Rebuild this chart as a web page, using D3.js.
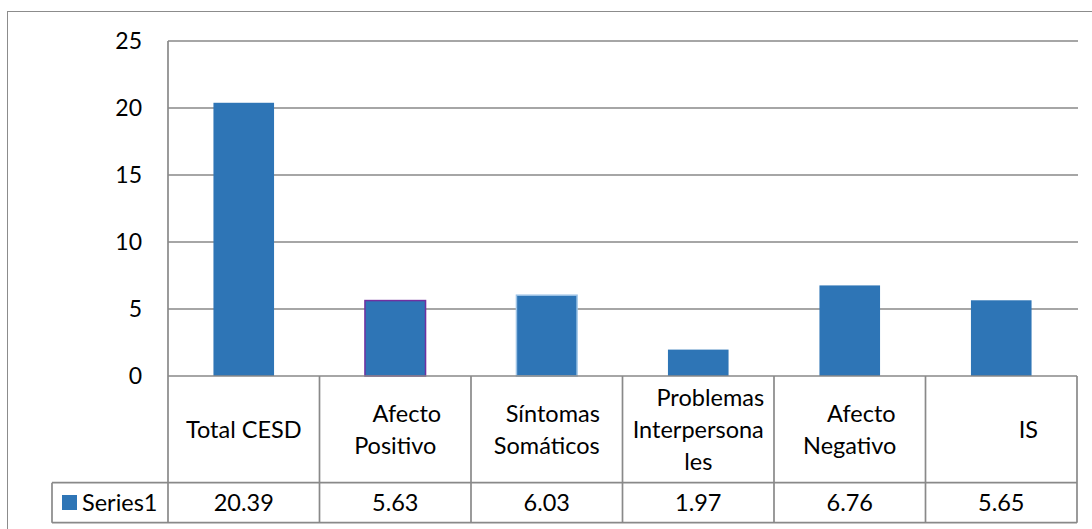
<!DOCTYPE html>
<html>
<head>
<meta charset="utf-8">
<script src="https://cdn.jsdelivr.net/npm/d3@7"></script>
<style>
  html, body { margin: 0; padding: 0; background: #fff; }
  svg { display: block; }
  text { font-family: Lato, "Open Sans", sans-serif; fill: #000; white-space: pre; }
</style>
</head>
<body>
<div id="root"></div>
<script>
// chart data
const categories = ["Total CESD", "Afecto Positivo", "Síntomas Somáticos", "Problemas Interpersonales", "Afecto Negativo", "IS"]
const label_lines = [
  ["Total CESD"],
  ["    Afecto", "Positivo"],
  ["  Síntomas", "Somáticos"],
  ["    Problemas", "Interpersona", "les"],
  ["    Afecto", "Negativo"],
  ["         IS"]
]
const series_name = "Series1"
const values = [20.39, 5.63, 6.03, 1.97, 6.76, 5.65]
const value_labels = ["20.39", "5.63", "6.03", "1.97", "6.76", "5.65"]
const y_ticks = [0, 5, 10, 15, 20, 25]
// outline colours of individual bars as in the original
const bar_strokes = ["none", "#7030a0", "#9dc3e6", "none", "none", "none"]

const W = 1092, H = 529
const plot = {left: 168, right: 1077, top: 41, zero: 376}
const row1_bottom = 482.7, row2_bottom = 522.7, legend_left = 52
const grid_color = "#898989"
const bar_color = "#2e75b6"
const font_size = 23.5

const svg = d3.select("#root").append("svg")
  .attr("width", W)
  .attr("height", H)

// outer chart border (cut off at right and bottom)
svg.append("rect")
  .attr("x", 7.5).attr("y", 11.5)
  .attr("width", W + 20).attr("height", H + 20)
  .attr("fill", "none")
  .attr("stroke", "#8c8c8c")
  .attr("stroke-width", 1)

const x_scale = d3.scaleBand()
  .domain(categories)
  .range([plot.left, plot.right])
  .padding(0)

const y_scale = d3.scaleLinear()
  .domain([0, 25])
  .range([plot.zero, plot.top])

// gridlines
svg.append("g")
  .selectAll("line")
  .data(y_ticks.filter(t => t > 0))
  .enter()
  .append("line")
  .attr("x1", plot.left).attr("x2", plot.right + 1)
  .attr("y1", d => y_scale(d)).attr("y2", d => y_scale(d))
  .attr("stroke", grid_color)
  .attr("stroke-width", 1.7)

// y tick labels
svg.append("g")
  .selectAll("text")
  .data(y_ticks)
  .enter()
  .append("text")
  .attr("x", 142)
  .attr("y", d => y_scale(d))
  .attr("dy", "0.36em")
  .attr("text-anchor", "end")
  .style("font-size", "23px")
  .text(d => d)

// bars
const bar_w = x_scale.bandwidth() * 0.4
svg.append("g")
  .selectAll("rect")
  .data(values)
  .enter()
  .append("rect")
  .attr("x", (d, i) => x_scale(categories[i]) + (x_scale.bandwidth() - bar_w) / 2)
  .attr("y", d => y_scale(d))
  .attr("width", bar_w)
  .attr("height", d => y_scale(0) - y_scale(d))
  .attr("fill", bar_color)
  .attr("stroke", (d, i) => bar_strokes[i])
  .attr("stroke-width", 1.5)

// data table lines
const table = svg.append("g")
  .attr("stroke", grid_color)
  .attr("stroke-width", 1.7)
  .attr("fill", "none")

table.append("line")
  .attr("x1", plot.left).attr("x2", plot.right)
  .attr("y1", y_scale(0)).attr("y2", y_scale(0))
for (const y of [row1_bottom, row2_bottom]) {
  table.append("line")
    .attr("x1", legend_left).attr("x2", plot.right)
    .attr("y1", y).attr("y2", y)
}
// y axis line, running down through the table
table.append("line")
  .attr("x1", plot.left).attr("x2", plot.left)
  .attr("y1", plot.top).attr("y2", row2_bottom)
table.selectAll("line.col")
  .data(categories)
  .enter()
  .append("line")
  .attr("class", "col")
  .attr("x1", d => x_scale(d) + x_scale.bandwidth())
  .attr("x2", d => x_scale(d) + x_scale.bandwidth())
  .attr("y1", y_scale(0)).attr("y2", row2_bottom)
table.append("line")
  .attr("x1", legend_left).attr("x2", legend_left)
  .attr("y1", row1_bottom).attr("y2", row2_bottom)

// category labels
const line_h = 32
const row1_mid = (y_scale(0) + row1_bottom) / 2
label_lines.forEach((lines, i) => {
  const cx = x_scale(categories[i]) + x_scale.bandwidth() / 2
  const y0 = row1_mid - (lines.length - 1) * line_h / 2
  svg.append("g")
    .selectAll("text")
    .data(lines)
    .enter()
    .append("text")
    .attr("x", cx)
    .attr("y", (d, j) => y0 + j * line_h)
    .attr("dy", "0.36em")
    .attr("text-anchor", "middle")
    .style("font-size", font_size + "px")
    .text(d => d)
})

// value row
const row2_mid = (row1_bottom + row2_bottom) / 2
svg.append("g")
  .selectAll("text")
  .data(value_labels)
  .enter()
  .append("text")
  .attr("x", (d, i) => x_scale(categories[i]) + x_scale.bandwidth() / 2)
  .attr("y", row2_mid)
  .attr("dy", "0.36em")
  .attr("text-anchor", "middle")
  .style("font-size", font_size + "px")
  .text(d => d)

// legend key in the table
svg.append("rect")
  .attr("x", 62).attr("y", 495)
  .attr("width", 15).attr("height", 15)
  .attr("fill", bar_color)
svg.append("text")
  .attr("x", 82)
  .attr("y", row2_mid)
  .attr("dy", "0.36em")
  .style("font-size", font_size + "px")
  .text(series_name)
</script>
</body>
</html>
